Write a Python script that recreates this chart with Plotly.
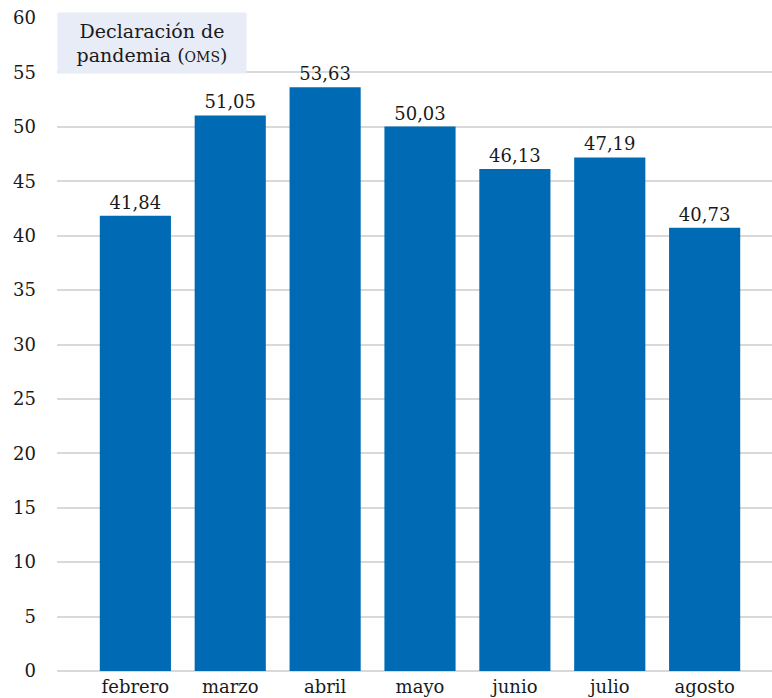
import plotly.graph_objects as go

months = ["febrero", "marzo", "abril", "mayo", "junio", "julio", "agosto"]
values = [41.84, 51.05, 53.63, 50.03, 46.13, 47.19, 40.73]
y_ticks = [0, 5, 10, 15, 20, 25, 30, 35, 40, 45, 50, 55, 60]

FONT = "DejaVu Serif"
fig = go.Figure(go.Bar(
    x=months, y=values,
    marker=dict(color="#006bb4", line=dict(width=0)),
    texttemplate="%{y:.2f}", textposition="outside",
    textfont=dict(family=FONT, size=18, color="#1a1a1a"),
    cliponaxis=False,
))

fig.update_layout(
    width=772, height=698,
    margin=dict(l=57, r=0, t=18, b=27, pad=0),
    paper_bgcolor="white", plot_bgcolor="white",
    separators=", ",
    bargap=0.25,
    showlegend=False,
    font=dict(family=FONT, size=18, color="#1a1a1a"),
    xaxis=dict(range=[-0.826, 6.71], showgrid=False, showline=False,
               ticks="", tickfont=dict(family=FONT, size=18, color="#1a1a1a"),
               ticklabelstandoff=3),
    yaxis=dict(range=[0, 60], tickvals=y_ticks, showgrid=True,
               gridcolor="#d9d9d9", gridwidth=2, zeroline=True,
               zerolinecolor="#d9d9d9", zerolinewidth=2, showline=False,
               ticks="", tickfont=dict(family=FONT, size=18, color="#1a1a1a"),
               ticklabelstandoff=20),
    annotations=[dict(
        xref="paper", yref="paper", x=0, y=(671 - 12) / 653,
        xanchor="left", yanchor="top",
        text="Declaración de<br>pandemia (<span style='font-size:14px'>OMS</span>)",
        showarrow=False, align="center",
        bgcolor="#e8ecf7", width=188, height=60, borderpad=0,
        font=dict(family=FONT, size=19, color="#1a1a1a"),
    )],
)

fig.write_html("out.html")
